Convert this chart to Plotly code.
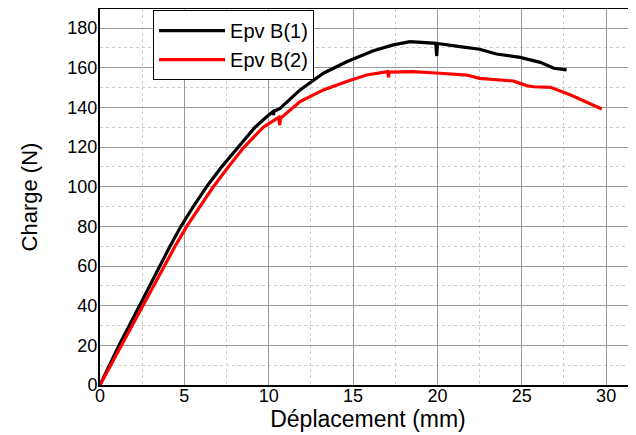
import plotly.graph_objects as go

# Epv B(1) (black)
b1_x = [0, 0.55, 1.13, 1.74, 2.33, 2.92, 3.52, 4.15, 4.8, 5.53, 6.32, 7.21, 8.2, 9.19, 9.98, 10.25, 10.28, 10.32, 10.67, 11.26, 11.86, 13.24, 14.62, 16.2, 17.39, 18.38, 19.9, 19.96, 19.98, 20.0, 21.34, 22.5, 23.5, 24.9, 26.1, 26.9, 27.66]
b1_y = [0, 10, 20, 30, 40, 50, 60, 70, 80, 90, 100, 110, 120, 130, 136, 137.8, 136.2, 138.0, 139.5, 144.2, 148.8, 157.2, 163, 168.6, 171.5, 173.1, 172.3, 165.9, 172.0, 172.2, 170.6, 169.3, 166.9, 165.2, 162.7, 159.7, 158.9]

# Epv B(2) (red)
b2_x = [0, 0.63, 1.25, 1.88, 2.51, 3.16, 3.81, 4.45, 5.14, 5.93, 6.72, 7.61, 8.54, 9.68, 10.6, 10.65, 10.7, 11.86, 13.24, 14.62, 15.8, 17.05, 17.1, 17.15, 18.57, 20.15, 21.74, 22.5, 23.5, 24.5, 24.9, 25.3, 25.7, 26.7, 27.9, 28.85, 29.74]
b2_y = [0, 10, 20, 30, 40, 50, 60, 70, 80, 90, 100, 110, 120, 130, 135, 131.1, 134.5, 142.9, 148.8, 153, 156.3, 158, 155.2, 157.8, 158, 157.2, 156.3, 154.6, 154.0, 153.3, 152.1, 150.9, 150.4, 150.1, 146.2, 142.4, 139.2]

x_ticks = [0, 5, 10, 15, 20, 25, 30]
y_ticks = [0, 20, 40, 60, 80, 100, 120, 140, 160, 180]

fig = go.Figure()
fig.add_trace(go.Scatter(x=b1_x, y=b1_y, mode="lines", name="Epv B(1)",
                         line=dict(color="black", width=3.2)))
fig.add_trace(go.Scatter(x=b2_x, y=b2_y, mode="lines", name="Epv B(2)",
                         line=dict(color="#ff0000", width=3.2)))

font_family = "Liberation Sans, Arial, sans-serif"

# page body has an 8px margin, so the figure starts at (8, 8)
fig.update_layout(
    width=636, height=435,
    margin=dict(l=92, r=8, t=1, b=58),
    paper_bgcolor="white", plot_bgcolor="white",
    font=dict(family=font_family, color="black"),
    showlegend=True,
    legend=dict(x=0.099, y=0.997, xanchor="left", yanchor="top",
                bgcolor="white", bordercolor="black", borderwidth=1,
                itemwidth=66,
                font=dict(size=20, family=font_family), tracegroupgap=0),
    xaxis=dict(range=[0, 31.77], tickvals=x_ticks, ticktext=[str(v) for v in x_ticks],
               showline=True, linecolor="black", linewidth=2, mirror=True,
               showgrid=True, gridcolor="#999999", gridwidth=1,
               minor=dict(dtick=2.5, showgrid=True, gridcolor="#cccccc", griddash="dot", gridwidth=1),
               ticks="", tickfont=dict(size=18), zeroline=False, ticklabelstandoff=-7,
               title=dict(text="Déplacement (mm)", font=dict(size=23), standoff=6),
               automargin=False),
    yaxis=dict(range=[0, 189.6], tickvals=y_ticks, ticktext=[str(v) for v in y_ticks],
               showline=True, linecolor="black", linewidth=2, mirror=False,
               showgrid=True, gridcolor="#999999", gridwidth=1,
               minor=dict(dtick=10, showgrid=True, gridcolor="#cccccc", griddash="dot", gridwidth=1),
               ticks="", tickfont=dict(size=18), zeroline=False, ticklabelstandoff=-3,
               title=dict(text="Charge (N)", font=dict(size=22), standoff=24),
               automargin=False),
)

fig.write_html("out.html")
